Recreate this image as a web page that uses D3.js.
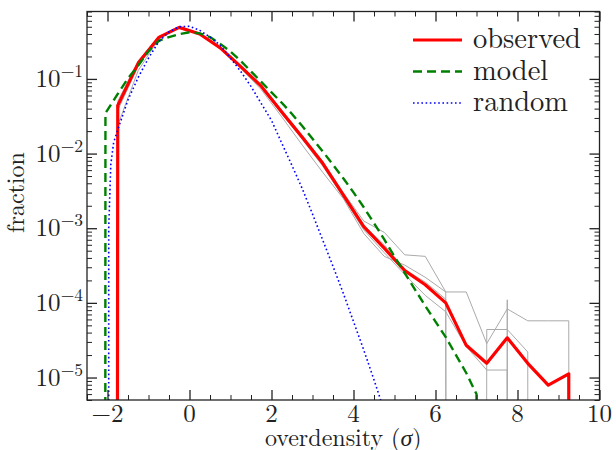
<!DOCTYPE html>
<html>
<head>
<meta charset="utf-8">
<script src="https://cdn.jsdelivr.net/npm/d3@7"></script>
<style>
	body { margin: 0; background: #fff; }
</style>
</head>
<body>
<div id="my_dataviz"></div>
<script>
// bin centres of the observed histogram (sigma)
const bins = [-2.25, -1.75, -1.25, -0.75, -0.25, 0.25, 0.75, 1.25, 1.75, 2.25, 2.75, 3.25, 3.75,
	4.25, 4.75, 5.25, 5.75, 6.25, 6.75, 7.25, 7.75, 8.25, 8.75, 9.25, 9.75];

const observed = [0, 0.044, 0.163, 0.36, 0.49, 0.40, 0.26, 0.146, 0.080, 0.036, 0.0165, 0.0074, 0.0028,
	0.00105, 0.00054, 0.00027, 0.000175, 0.0001, 2.7e-5, 1.55e-5, 3.4e-5, 1.55e-5, 7.9e-6, 1.12e-5, 0];

// individual realisations (thin grey)
const real1 = [0, 0.050, 0.175, 0.37, 0.48, 0.40, 0.265, 0.15, 0.083, 0.038, 0.0175, 0.0078, 0.0030,
	0.00125, 0.00088, 0.00044, 0.00042, 0.00014, 0.00014, 2.85e-5, 8.3e-5, 5.75e-5, 5.75e-5, 5.75e-5, 0];
const real2 = [0, 0.024, 0.13, 0.34, 0.49, 0.41, 0.25, 0.138, 0.072, 0.031, 0.0130, 0.0056, 0.0025,
	0.00085, 0.00042, 0.00032, 0.00022, 0.00014, 0, 4.4e-5, 4.4e-5, 2.2e-5, 0, 0, 0];
const real3 = [0, 0.038, 0.15, 0.355, 0.50, 0.41, 0.26, 0.142, 0.077, 0.034, 0.0155, 0.0068, 0.0026,
	0.00095, 0.00047, 0.00024, 0.000126, 7.6e-5, 2.6e-5, 1.26e-5, 1.26e-5, 0, 0, 0, 0];
const real4 = [0, 0.046, 0.17, 0.365, 0.49, 0.40, 0.26, 0.148, 0.081, 0.037, 0.0170, 0.0076, 0.0029,
	0.00110, 0.00060, 0.00028, 0.00019, 0.000112, 0, 0, 0.00011, 0, 0, 0, 0];

const modelX = [-2.3, -2.05, -1.75, -1.5, -1.25, -1.0, -0.75, -0.5, -0.25, 0, 0.25, 0.5, 0.75, 1.0,
	1.25, 1.5, 1.75, 2.0, 2.25, 2.5, 2.75, 3.0, 3.25, 3.5, 3.75, 4.0, 4.25, 4.5, 4.75, 5.0, 5.25,
	5.5, 5.75, 6.0, 6.25, 6.5, 6.75, 7.0, 7.25];
const model = [0, 0.0347, 0.063, 0.102, 0.151, 0.234, 0.324, 0.363, 0.398, 0.422, 0.407, 0.363, 0.295,
	0.232, 0.174, 0.126, 0.0912, 0.0661, 0.0479, 0.0339, 0.0234, 0.0158, 0.0107, 0.00708, 0.00468,
	0.00302, 0.00191, 0.00117, 0.000708, 0.000417, 0.000251, 0.000151, 9.12e-5, 5.62e-5, 3.47e-5,
	2.0e-5, 1.15e-5, 6.0e-6, 0];

const randomX = [-2.0, -1.97, -1.92, -1.85, -1.7, -1.5, -1.25, -1.0, -0.75, -0.5, -0.25, 0, 0.25, 0.5,
	0.75, 1.0, 1.25, 1.5, 1.75, 2.0, 2.25, 2.5, 2.75, 3.0, 3.25, 3.5, 3.75, 4.0, 4.25, 4.5, 4.75];
const random = [0, 0.001, 0.0071, 0.0141, 0.0251, 0.0525, 0.105, 0.19, 0.316, 0.427, 0.50, 0.507, 0.447,
	0.363, 0.282, 0.19, 0.126, 0.0794, 0.0468, 0.0278, 0.0138, 0.00692, 0.00339, 0.00155, 0.000692,
	0.000309, 0.000135, 5.62e-5, 2.34e-5, 9.3e-6, 3.6e-6];

const xTicks = [-2, 0, 2, 4, 6, 8, 10];
const xTickLabels = ["\u22122", "0", "2", "4", "6", "8", "10"];
const yTicks = [1e-5, 1e-4, 1e-3, 1e-2, 1e-1];
const yTickExp = ["\u22125", "\u22124", "\u22123", "\u22122", "\u22121"];
const legendNames = ["observed", "model", "random"];

var serif = "'Latin Modern Roman', 'Liberation Serif', serif";

var margin = { top: 11.5, right: 16.5, bottom: 50, left: 87 },
	width = 616 - margin.left - margin.right,
	height = 450 - margin.top - margin.bottom;

var svg = d3
	.select("#my_dataviz")
	.append("svg")
	.attr("width", 616)
	.attr("height", 450)
	.append("g")
	.attr("font-family", serif)
	.attr("transform", "translate(" + margin.left + "," + margin.top + ")");

var x = d3.scaleLinear().domain([-2.5, 10]).range([0, width]);
var y = d3.scaleLog().domain([5e-6, 0.8]).range([height, 0]);

svg.append("clipPath").attr("id", "clip")
	.append("rect").attr("width", width).attr("height", height);

// zeros go far below the frame, like a clipped log plot
var line = d3.line()
	.x(function (d) { return x(d[0]); })
	.y(function (d) { return y(Math.max(d[1], 1e-300)); });

var plot = svg.append("g").attr("clip-path", "url(#clip)");

[real1, real2, real3, real4].forEach(function (s) {
	plot.append("path")
		.datum(d3.zip(bins, s))
		.attr("fill", "none")
		.attr("stroke", "#aaaaaa")
		.attr("stroke-width", 1)
		.attr("d", line);
});

var styles = [
	{ color: "#ff0000", w: 3.2, dash: null },
	{ color: "#008000", w: 2.4, dash: "9,5" },
	{ color: "#0000ff", w: 1.6, dash: "1.6,2.6" }
];
var series = [d3.zip(bins, observed), d3.zip(modelX, model), d3.zip(randomX, random)];

series.forEach(function (s, i) {
	plot.append("path")
		.datum(s)
		.attr("fill", "none")
		.attr("stroke", styles[i].color)
		.attr("stroke-width", styles[i].w)
		.attr("stroke-dasharray", styles[i].dash)
		.attr("stroke-linejoin", "round")
		.attr("d", line);
});

// ticks pointing inwards on all four sides
function ticks(axis, values, size, transform) {
	var g = svg.append("g")
		.attr("transform", transform)
		.call(axis.tickValues(values).tickSize(size).tickFormat(""));
	g.select(".domain").remove();
	g.selectAll("line").attr("stroke", "#222").attr("stroke-width", size === -10 ? 1.3 : 1);
}
var xMinor = x.ticks(25).filter(function (v) { return xTicks.indexOf(v) < 0; });
var yMinor = y.ticks().filter(function (v) { return yTicks.indexOf(v) < 0; });

ticks(d3.axisBottom(x), xTicks, -10, "translate(0," + height + ")");
ticks(d3.axisBottom(x), xMinor, -5, "translate(0," + height + ")");
ticks(d3.axisTop(x), xTicks, -10, "translate(0,0)");
ticks(d3.axisTop(x), xMinor, -5, "translate(0,0)");
ticks(d3.axisLeft(y), yTicks, -10, "translate(0,0)");
ticks(d3.axisLeft(y), yMinor, -5, "translate(0,0)");
ticks(d3.axisRight(y), yTicks, -10, "translate(" + width + ",0)");
ticks(d3.axisRight(y), yMinor, -5, "translate(" + width + ",0)");

svg.append("rect")
	.attr("width", width)
	.attr("height", height)
	.attr("fill", "none")
	.attr("stroke", "#222")
	.attr("stroke-width", 1.3);

// tick labels
svg.selectAll(".xlab")
	.data(xTicks)
	.enter()
	.append("text")
	.attr("x", function (d) { return x(d); })
	.attr("y", height + 22)
	.attr("text-anchor", "middle")
	.attr("fill", "#222")
	.style("font-size", "25px")
	.text(function (d, i) { return xTickLabels[i]; });

var ylab = svg.selectAll(".ylab")
	.data(yTicks)
	.enter()
	.append("text")
	.attr("x", -4)
	.attr("y", function (d) { return y(d) + 8; })
	.attr("text-anchor", "end")
	.attr("fill", "#222")
	.style("font-size", "25px");
ylab.append("tspan").text("10");
ylab.append("tspan")
	.attr("dy", -10)
	.style("font-size", "17.5px")
	.text(function (d, i) { return yTickExp[i]; });

var xl = svg.append("text")
	.attr("x", width / 2)
	.attr("y", height + 46)
	.attr("text-anchor", "middle")
	.attr("fill", "#222")
	.style("font-size", "24px");
xl.append("tspan").text("overdensity (");
xl.append("tspan").style("font-style", "italic").text("\u03c3");
xl.append("tspan").text(")");

svg.append("text")
	.attr("transform", "translate(" + (-63) + "," + 181 + ")rotate(-90)")
	.attr("text-anchor", "middle")
	.attr("fill", "#222")
	.style("font-size", "24px")
	.text("fraction");

// legend
var legend = svg.append("g").attr("transform", "translate(" + (413 - margin.left) + "," + (40 - margin.top) + ")");
legendNames.forEach(function (name, i) {
	legend.append("line")
		.attr("x1", 0).attr("x2", 49)
		.attr("y1", i * 31.5).attr("y2", i * 31.5)
		.attr("stroke", styles[i].color)
		.attr("stroke-width", styles[i].w)
		.attr("stroke-dasharray", styles[i].dash);
	legend.append("text")
		.attr("x", 60)
		.attr("y", i * 31.5 + 8)
		.attr("fill", "#222")
		.style("font-size", "28.5px")
		.text(name);
});
</script>
</body>
</html>
